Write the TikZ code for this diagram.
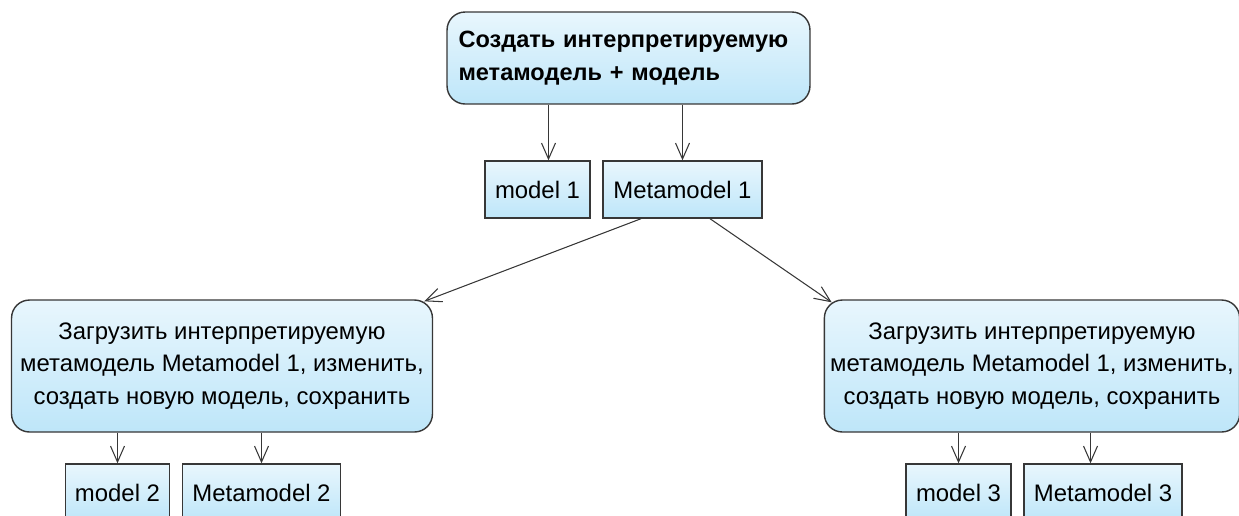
\documentclass[tikz,border=0pt]{standalone}
\usepackage{fontspec}
\setmainfont{Liberation Sans}
\usetikzlibrary{positioning,arrows.meta}
\definecolor{boxblue}{RGB}{190,230,249}
\definecolor{edgegray}{RGB}{55,55,55}
\tikzset{block/.style={draw=edgegray,line width=0.8pt,top color=boxblue!35!white,bottom color=boxblue,align=center,font=\fontsize{13.6}{18.7}\selectfont},
         task/.style={block,rounded corners=0.36cm},
         item/.style={block,minimum height=1.14cm,inner sep=0pt},
         line/.style={-{Straight Barb[length=3.2mm,width=2.8mm]},draw=edgegray,line width=0.6pt}
}

\begin{document}
\begin{tikzpicture}[x=0.02cm,y=-0.02cm]
  \useasboundingbox (0,0) rectangle (1239,515);
  \clip (0,0) rectangle (1239,515);
  \node[task, minimum width=7.26cm, minimum height=1.84cm, text width=6.8cm, inner xsep=0.23cm, align=left, font=\fontsize{13.4}{18.7}\selectfont\bfseries] (create) at (628.5,58) {Создать интерпретируемую\\метамодель + модель};
  \node[item, minimum width=2.1cm] (m1) at (537.5,189.5) {model 1};
  \node[item, minimum width=3.18cm] (mm1) at (682.5,189.5) {Metamodel 1};
  \node[task, minimum width=8.42cm, minimum height=2.64cm] (loadl) at (222,366) {Загрузить интерпретируемую\\метамодель Metamodel 1, изменить,\\создать новую модель, сохранить};
  \node[task, minimum width=8.2cm, minimum height=2.64cm] (loadr) at (1032,366) {Загрузить интерпретируемую\\метамодель Metamodel 1, изменить,\\создать новую модель, сохранить};
  \node[item, minimum width=2.08cm] (m2) at (117.5,492.5) {model 2};
  \node[item, minimum width=3.16cm] (mm2) at (261.5,492.5) {Metamodel 2};
  \node[item, minimum width=2.1cm] (m3) at (958.5,492.5) {model 3};
  \node[item, minimum width=3.16cm] (mm3) at (1103,492.5) {Metamodel 3};

  \draw[line] ([xshift=0.22cm]m1.north |- create.south) -- ([xshift=0.22cm]m1.north);
  \draw[line] (mm1.north |- create.south) -- (mm1.north);
  \draw[line] ([xshift=-0.83cm]mm1.south) -- ([shift={(-0.18cm,-0.04cm)}]loadl.north east);
  \draw[line] ([xshift=0.55cm]mm1.south) -- ([shift={(0.16cm,-0.06cm)}]loadr.north west);
  \draw[line] (m2.north |- loadl.south) -- (m2.north);
  \draw[line] (mm2.north |- loadl.south) -- (mm2.north);
  \draw[line] (m3.north |- loadr.south) -- (m3.north);
  \draw[line] ([xshift=-0.25cm]mm3.north |- loadr.south) -- ([xshift=-0.25cm]mm3.north);
\end{tikzpicture}
\end{document}
